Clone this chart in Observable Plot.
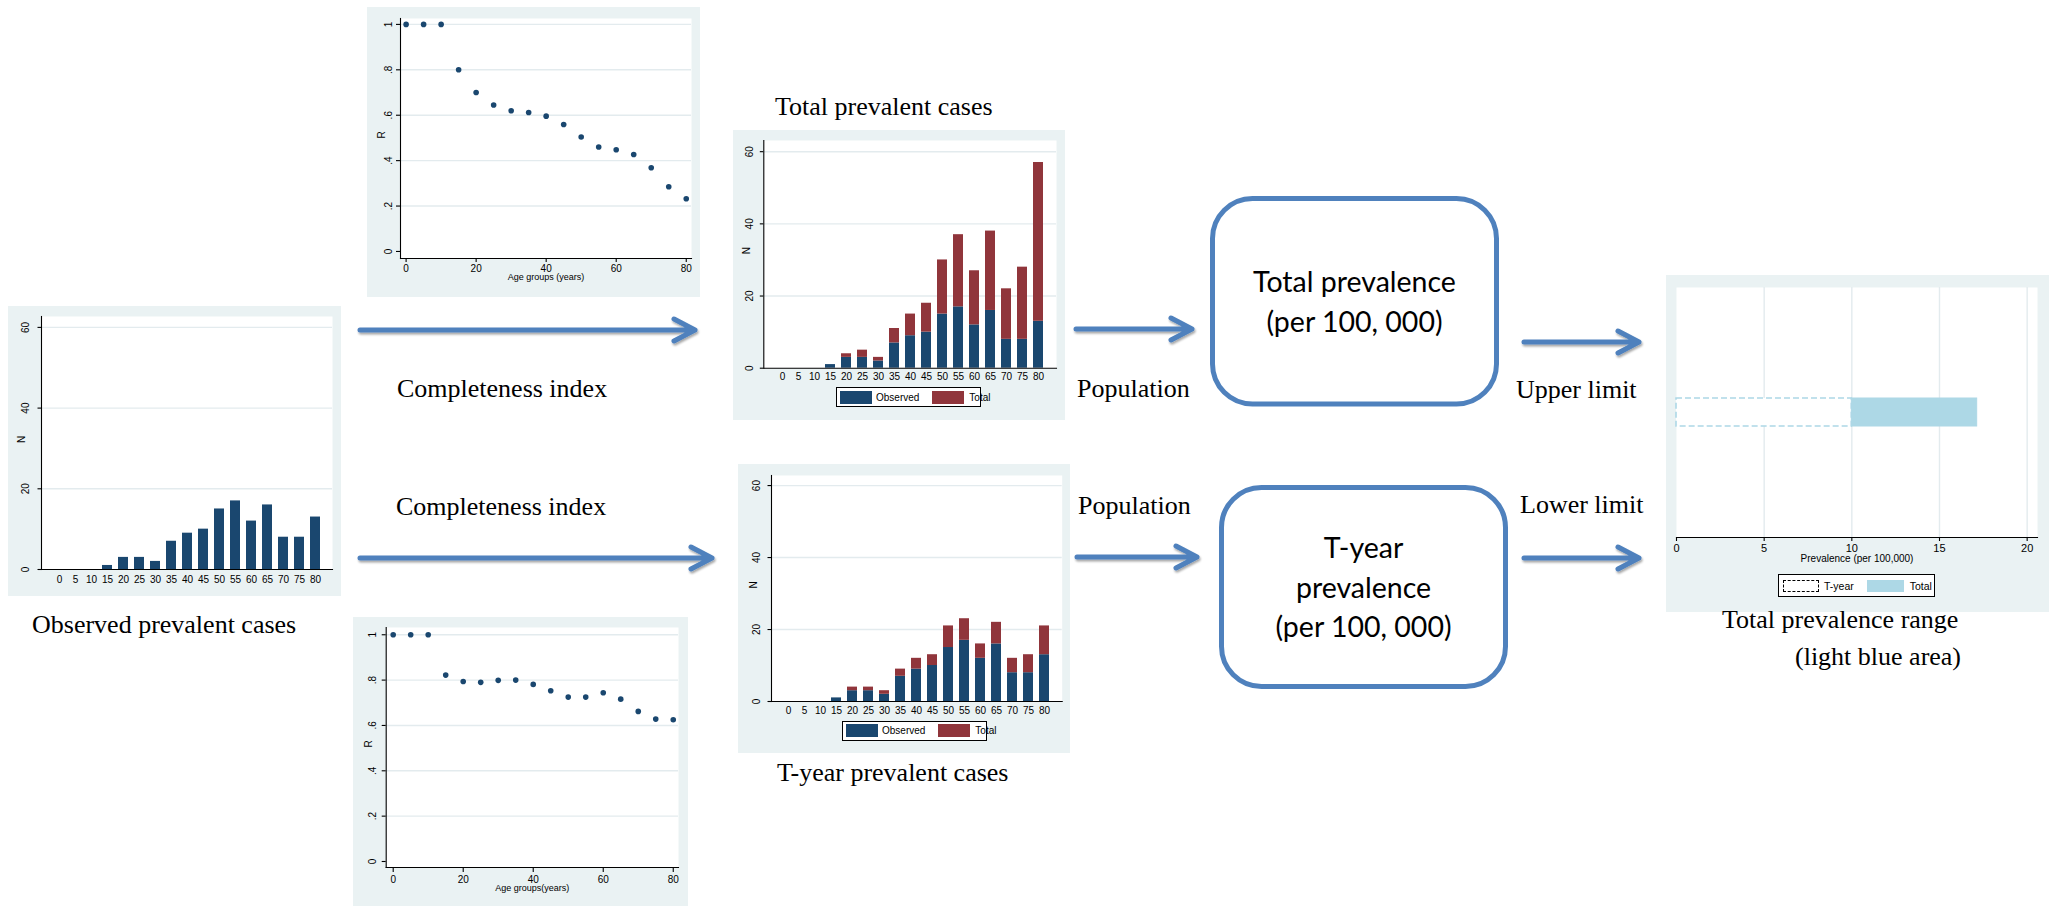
<!DOCTYPE html>
<html>
<head>
<meta charset="utf-8">
<script src="https://cdn.jsdelivr.net/npm/d3@7"></script>
<script src="https://cdn.jsdelivr.net/npm/@observablehq/plot@0.6"></script>
<style>
  html, body { margin: 0; padding: 0; background: #fff; }
  #root { position: relative; width: 2049px; height: 906px; overflow: hidden; background: #fff; }
  .panel { position: absolute; background: #eaf2f3; overflow: hidden; }
  .panel svg { display: block; }
  .legend { position: absolute; box-sizing: border-box; border: 1px solid #000; background: #fff;
            display: flex; align-items: center; font: 10px "Liberation Sans", Arial, sans-serif; color: #000; }
  .legend .sw { display: inline-block; box-sizing: border-box; flex: none; }
  #overlay { position: absolute; left: 0; top: 0; pointer-events: none; }
</style>
</head>
<body>
<div id="root"></div>
<script>
// ---------------- data ----------------
const ageGroups = [0, 5, 10, 15, 20, 25, 30, 35, 40, 45, 50, 55, 60, 65, 70, 75, 80];
const observedCases = [0, 0, 0, 1, 3, 3, 2, 7, 9, 10, 15, 17, 12, 16, 8, 8, 13];
const totalCases    = [0, 0, 0, 1, 4, 5, 3, 11, 15, 18, 30, 37, 27, 38, 22, 28, 57];
const tyearCases    = [0, 0, 0, 1, 4, 4, 3, 9, 12, 13, 21, 23, 16, 22, 12, 13, 21];
const rTotal = [1, 1, 1, 0.80, 0.70, 0.645, 0.62, 0.612, 0.596, 0.559, 0.504, 0.46, 0.448, 0.427, 0.369, 0.285, 0.232];
const rTyear = [1, 1, 1, 0.822, 0.794, 0.79, 0.799, 0.80, 0.781, 0.753, 0.725, 0.725, 0.744, 0.716, 0.662, 0.628, 0.625];
const rTicks = [0, 0.2, 0.4, 0.6, 0.8, 1];
const rTickLabels = ["0", ".2", ".4", ".6", ".8", "1"];
const nTicks = [0, 20, 40, 60];
const ageTicks = [0, 20, 40, 60, 80];
const prevTicks = [0, 5, 10, 15, 20];
const seriesNames = ["Observed", "Total"];
const rangeNames = ["T-year", "Total"];
const rangeCategory = ["Prevalence"];
const tyearPrevalence = 10;
const totalPrevalence = 17.15;

// ---------------- styles ----------------
const NAVY = "#1a476f", MAROON = "#90353b", LIGHTBLUE = "#add8e6", GRID = "#e3ebee";
const SANS = "'Liberation Sans', Arial, sans-serif";
const root = document.getElementById("root");

function panel(left, top, w, h) {
  const d = document.createElement("div");
  d.className = "panel";
  d.style.left = left + "px"; d.style.top = top + "px";
  d.style.width = w + "px"; d.style.height = h + "px";
  root.appendChild(d);
  return d;
}

function baseStyle() {
  return { background: "transparent", fontFamily: SANS, fontSize: "10px", color: "#000", overflow: "visible" };
}

function scatter(o) {
  const data = ageGroups.map((a, i) => ({ age: a, r: o.values[i] }));
  const p = Plot.plot({
    width: o.w, height: o.h,
    marginTop: o.m[0], marginRight: o.m[1], marginBottom: o.m[2], marginLeft: o.m[3],
    style: baseStyle(),
    x: { domain: o.xDomain },
    y: { domain: o.yDomain },
    marks: [
      Plot.frame({ fill: "white", stroke: null }),
      Plot.ruleY(rTicks.filter(t => t > 0), { stroke: GRID, strokeWidth: 1.4 }),
      Plot.dot(data, { x: "age", y: "r", r: 2.8, fill: NAVY, stroke: null }),
      Plot.frame({ anchor: "bottom", stroke: "#000", strokeWidth: 1.1 }),
      Plot.frame({ anchor: "left", stroke: "#000", strokeWidth: 1.1 }),
      Plot.axisX({ ticks: ageTicks, tickSize: o.xTickSize, tickPadding: o.xTickPad, fontSize: 10, label: null, strokeWidth: 1.1 }),
      Plot.axisY({ ticks: rTicks, tickSize: 4, tickFormat: () => "", label: null, strokeWidth: 1.1 }),
      Plot.text(rTicks, { y: d => d, text: (d, i) => rTickLabels[i], frameAnchor: "left", rotate: -90,
        dx: o.yTickDx, textAnchor: "middle", lineAnchor: "middle", fontSize: 10 }),
      Plot.text([o.xTitle], { frameAnchor: "bottom", dy: o.xTitleDy, fontSize: 9 }),
      Plot.text(["R"], { frameAnchor: "left", rotate: -90, dx: o.yTitleDx, fontSize: 10 })
    ]
  });
  panel(o.left, o.top, o.w, o.h).appendChild(p);
}

function barChart(o) {
  const data = ageGroups.map((a, i) => ({ age: a, obs: o.base[i], tot: o.total ? o.total[i] : o.base[i] }));
  const marks = [
    Plot.frame({ fill: "white", stroke: null }),
    Plot.ruleY(nTicks.filter(t => t > 0), { stroke: GRID, strokeWidth: 1.4 }),
    Plot.barY(data, { x: "age", y: "obs", fill: NAVY })
  ];
  if (o.total) {
    marks.push(Plot.barY(data.filter(d => d.tot > d.obs), { x: "age", y1: "obs", y2: "tot", fill: MAROON }));
  }
  marks.push(
    Plot.frame({ anchor: "bottom", stroke: "#000", strokeWidth: 1.1 }),
    Plot.frame({ anchor: "left", stroke: "#000", strokeWidth: 1.1 }),
    Plot.axisX({ tickSize: 0, tickPadding: o.xPad, fontSize: 10, label: null }),
    Plot.axisY({ ticks: nTicks, tickSize: 3.5, tickFormat: () => "", label: null, strokeWidth: 1.1 }),
    Plot.text(nTicks, { y: d => d, text: d => String(d), frameAnchor: "left", rotate: -90,
      dx: o.yTickDx, textAnchor: "middle", lineAnchor: "middle", fontSize: 10 }),
    Plot.text(["N"], { frameAnchor: "left", rotate: -90, dx: o.yTitleDx, fontSize: 10 })
  );
  const p = Plot.plot({
    width: o.w, height: o.h,
    marginTop: o.m[0], marginRight: o.m[1], marginBottom: o.m[2], marginLeft: o.m[3],
    style: baseStyle(),
    x: { type: "band", domain: ageGroups, paddingInner: 0.38, paddingOuter: o.po, align: 0.5 },
    y: { domain: [0, o.yTop] },
    marks
  });
  panel(o.left, o.top, o.w, o.h).appendChild(p);
}

function legend(left, top, w, h, items) {
  const d = document.createElement("div");
  d.className = "legend";
  d.style.left = left + "px"; d.style.top = top + "px";
  d.style.width = w + "px"; d.style.height = h + "px";
  items.forEach((it, i) => {
    const sw = document.createElement("span");
    sw.className = "sw";
    sw.style.width = it.sw + "px"; sw.style.height = it.sh + "px";
    sw.style.marginLeft = (i === 0 ? it.first : it.gap) + "px";
    if (it.dashed) { sw.style.border = "1px dashed #000"; sw.style.background = "#fff"; }
    else sw.style.background = it.color;
    const t = document.createElement("span");
    t.textContent = it.name;
    t.style.marginLeft = it.tgap + "px";
    t.style.fontSize = it.fs + "px";
    d.appendChild(sw); d.appendChild(t);
  });
  root.appendChild(d);
}

// ---------- charts ----------
// Top completeness (scatter)
scatter({ left: 367, top: 7, w: 333, h: 290, m: [11, 9, 39, 33],
  xDomain: [-1.6, 81.5], yDomain: [-0.031, 1.026], values: rTotal,
  xTitle: "Age groups (years)", xTickSize: 4, xTickPad: 2, xTitleDy: 21, yTickDx: -11.5, yTitleDx: -19 });

// Bottom completeness (scatter)
scatter({ left: 353, top: 617, w: 335, h: 289, m: [10, 10, 39, 32.7],
  xDomain: [-2, 81.5], yDomain: [-0.0265, 1.032], values: rTyear,
  xTitle: "Age groups(years)", xTickSize: 5, xTickPad: 3, xTitleDy: 23.5, yTickDx: -13.5, yTitleDx: -17 });

// Observed prevalent cases
barChart({ left: 7.7, top: 306, w: 333, h: 290, m: [10, 9, 27, 33], yTop: 62.7, po: 0.65,
  base: observedCases, xPad: 6, yTickDx: -15.7, yTitleDx: -19.5 });

// Total prevalent cases
barChart({ left: 732.7, top: 130, w: 332, h: 290, m: [10, 9, 52.3, 30.3], yTop: 63.1, po: 0.70,
  base: observedCases, total: totalCases, xPad: 5, yTickDx: -13.7, yTitleDx: -17.5 });
legend(836, 387, 145, 20, [
  { name: seriesNames[0], color: NAVY, sw: 32, sh: 13, first: 3, gap: 0, tgap: 4, fs: 10 },
  { name: seriesNames[1], color: MAROON, sw: 32, sh: 13, first: 0, gap: 13, tgap: 5, fs: 10 }
]);

// T-year prevalent cases
barChart({ left: 737.7, top: 464, w: 332, h: 289, m: [11, 8.3, 52, 33], yTop: 62.8, po: 0.62,
  base: observedCases, total: tyearCases, xPad: 5.5, yTickDx: -15, yTitleDx: -17.7 });
legend(842, 721, 145, 19.5, [
  { name: seriesNames[0], color: NAVY, sw: 32, sh: 13, first: 3, gap: 0, tgap: 4, fs: 10 },
  { name: seriesNames[1], color: MAROON, sw: 32, sh: 13, first: 0, gap: 13, tgap: 5, fs: 10 }
]);

// Total prevalence range
(function () {
  const tyear = [{ cat: rangeCategory[0], lo: 0, hi: tyearPrevalence }];
  const total = [{ cat: rangeCategory[0], lo: tyearPrevalence, hi: totalPrevalence }];
  const p = Plot.plot({
    width: 382, height: 337, marginTop: 12, marginRight: 11, marginBottom: 75, marginLeft: 10,
    style: baseStyle(),
    x: { domain: [0, 20.59] },
    y: { type: "band", domain: rangeCategory, paddingInner: 0, paddingOuter: 3.96, axis: null },
    marks: [
      Plot.frame({ fill: "white", stroke: null }),
      Plot.ruleX(prevTicks.filter(t => t > 0), { stroke: GRID, strokeWidth: 1.4 }),
      Plot.barX(tyear, { x1: "lo", x2: "hi", y: "cat", fill: "white", stroke: LIGHTBLUE,
        strokeWidth: 1.6, strokeDasharray: "6,3" }),
      Plot.barX(total, { x1: "lo", x2: "hi", y: "cat", fill: LIGHTBLUE, stroke: LIGHTBLUE, strokeWidth: 1 }),
      Plot.frame({ anchor: "bottom", stroke: "#000", strokeWidth: 1.1 }),
      Plot.axisX({ ticks: prevTicks, tickSize: 4, tickPadding: 3, fontSize: 11, label: null, strokeWidth: 1.1 }),
      Plot.text(["Prevalence (per 100,000)"], { frameAnchor: "bottom", dy: 24.5, fontSize: 10 })
    ]
  });
  panel(1666, 275, 383, 337).appendChild(p);
  legend(1778, 574, 157, 23, [
    { name: rangeNames[0], dashed: true, sw: 36, sh: 12, first: 4, gap: 0, tgap: 5, fs: 10.5 },
    { name: rangeNames[1], color: LIGHTBLUE, sw: 37, sh: 12, first: 0, gap: 13, tgap: 6, fs: 10.5 }
  ]);
})();

// ---------- flow diagram overlay ----------
const NS = "http://www.w3.org/2000/svg";
const svg = document.createElementNS(NS, "svg");
svg.setAttribute("id", "overlay");
svg.setAttribute("width", 2049); svg.setAttribute("height", 906);
svg.innerHTML = `
<defs>
  <filter id="sh" x="-10%" y="-100%" width="120%" height="300%">
    <feDropShadow dx="1" dy="2" stdDeviation="1.2" flood-color="#000" flood-opacity="0.35"/>
  </filter>
</defs>`;
root.appendChild(svg);

function arrow(x1, x2, y) {
  const p = document.createElementNS(NS, "path");
  p.setAttribute("d", `M${x1},${y}L${x2},${y}M${x2 - 21},${y - 11}L${x2},${y}L${x2 - 21},${y + 11}`);
  p.setAttribute("fill", "none");
  p.setAttribute("stroke", "#4f81bd");
  p.setAttribute("stroke-width", 5);
  p.setAttribute("stroke-linecap", "round");
  p.setAttribute("stroke-linejoin", "round");
  p.setAttribute("filter", "url(#sh)");
  svg.appendChild(p);
}
function box(x, y, w, h) {
  const r = document.createElementNS(NS, "rect");
  r.setAttribute("x", x); r.setAttribute("y", y);
  r.setAttribute("width", w); r.setAttribute("height", h);
  r.setAttribute("rx", 40); r.setAttribute("ry", 40);
  r.setAttribute("fill", "#fff");
  r.setAttribute("stroke", "#4f81bd");
  r.setAttribute("stroke-width", 5);
  svg.appendChild(r);
}
function label(str, x, y, opt = {}) {
  const t = document.createElementNS(NS, "text");
  t.setAttribute("x", x); t.setAttribute("y", y);
  t.setAttribute("font-family", opt.family || "'Liberation Serif', 'Times New Roman', serif");
  t.setAttribute("font-size", opt.size || 26);
  t.setAttribute("text-anchor", opt.anchor || "start");
  t.setAttribute("fill", "#000");
  t.textContent = str;
  svg.appendChild(t);
}

arrow(360, 695, 330);
arrow(360, 712, 558);
arrow(1076, 1192, 329);
arrow(1077, 1197, 557);
arrow(1524, 1639, 342);
arrow(1524, 1639, 558);

box(1212.5, 198.5, 284, 205.5);
box(1221.5, 487.5, 284, 199);

const BOXFONT = { family: "Lato, 'Open Sans', sans-serif", size: 28.5, anchor: "middle" };
label("Total prevalence", 1354.5, 292, BOXFONT);
label("(per 100, 000)", 1354.5, 332, BOXFONT);
label("T-year", 1363.5, 558, BOXFONT);
label("prevalence", 1363.5, 598, BOXFONT);
label("(per 100, 000)", 1363.5, 637, BOXFONT);

label("Completeness index", 397, 397);
label("Completeness index", 396, 515);
label("Population", 1077, 397);
label("Population", 1078, 514);
label("Upper limit", 1516, 398);
label("Lower limit", 1520, 513);
label("Observed prevalent cases", 32, 633);
label("Total prevalent cases", 775, 115);
label("T-year prevalent cases", 777, 781);
label("Total prevalence range", 1722, 628);
label("(light blue area)", 1795, 665);
</script>
</body>
</html>
